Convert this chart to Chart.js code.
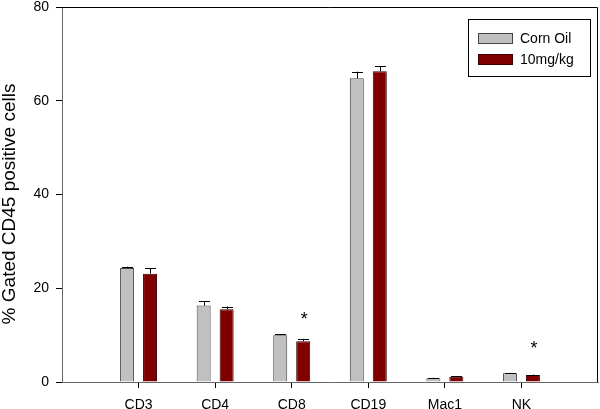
<!DOCTYPE html>
<html>
<head>
<meta charset="utf-8">
<script src="https://cdn.jsdelivr.net/npm/chart.js@4"></script>
<style>
  html, body { margin: 0; padding: 0; background: #fff; }
  #wrap { width: 600px; height: 409px; }
</style>
</head>
<body>
<div id="wrap"><canvas id="chart"></canvas></div>
<script>
// categories (blank slots at both ends keep the axis running 0..7)
const categories = ['', 'CD3', 'CD4', 'CD8', 'CD19', 'Mac1', 'NK', ''];
const cornOil = [null, 24.3, 16.3, 10.0, 64.8, 0.8, 1.85, null];
const cornOilErr = [null, 0.3, 1.0, 0.2, 1.4, 0.1, 0.1, null];
const dose = [null, 23.1, 15.5, 8.7, 66.3, 1.1, 1.5, null];
const doseErr = [null, 1.2, 0.6, 0.5, 1.1, 0.1, 0.1, null];
// asterisk positions (value units) above the 10mg/kg bars
const starAt = [null, null, null, 14, null, null, 7.9, null];
const yTicks = [0, 20, 40, 60, 80];
const yTitle = '% Gated CD45 positive cells';

const errors = [cornOilErr, doseErr];
const FONT = '"Liberation Sans", Arial, sans-serif';

// error bars, asterisks, frame, y title and legend
const extras = {
  id: 'extras',
  afterDatasetsDraw(chart) {
    const ctx = chart.ctx;
    const y = chart.scales.y;
    const area = chart.chartArea;
    ctx.save();
    ctx.strokeStyle = '#000';
    ctx.lineWidth = 1;
    chart.data.datasets.forEach((ds, di) => {
      const meta = chart.getDatasetMeta(di);
      meta.data.forEach((bar, i) => {
        const v = ds.data[i];
        const e = errors[di][i];
        if (v == null || !e) return;
        const top = y.getPixelForValue(v + e);
        const x = Math.round(bar.x) + 0.5;
        ctx.beginPath();
        ctx.moveTo(x, bar.y);
        ctx.lineTo(x, top);
        ctx.moveTo(x - 5.5, Math.round(top) + 0.5);
        ctx.lineTo(x + 5.5, Math.round(top) + 0.5);
        ctx.stroke();
      });
    });

    // asterisks
    const redMeta = chart.getDatasetMeta(1);
    ctx.fillStyle = '#000';
    ctx.font = '18px ' + FONT;
    ctx.textAlign = 'center';
    ctx.textBaseline = 'middle';
    starAt.forEach((s, i) => {
      if (s == null) return;
      ctx.fillText('*', redMeta.data[i].x + 1, y.getPixelForValue(s) + 4);
    });

    // top and right frame
    ctx.strokeStyle = '#000';
    ctx.beginPath();
    ctx.moveTo(area.left, area.top + 0.5);
    ctx.lineTo(area.right - 0.5, area.top + 0.5);
    ctx.lineTo(area.right - 0.5, area.bottom);
    ctx.stroke();

    // y axis title
    ctx.save();
    ctx.translate(10, 204);
    ctx.rotate(-Math.PI / 2);
    ctx.font = '19px ' + FONT;
    ctx.fillStyle = '#000';
    ctx.textAlign = 'center';
    ctx.textBaseline = 'middle';
    ctx.fillText(yTitle, 0, 0);
    ctx.restore();

    // legend box
    const lx = 468, ly = 19, lw = 122, lh = 57;
    ctx.fillStyle = '#fff';
    ctx.fillRect(lx, ly, lw, lh);
    ctx.strokeRect(lx + 0.5, ly + 0.5, lw, lh);
    ctx.font = '14px ' + FONT;
    ctx.textAlign = 'left';
    chart.data.datasets.forEach((ds, di) => {
      const ry = ly + 14 + di * 21;
      ctx.fillStyle = ds.backgroundColor;
      ctx.fillRect(478, ry, 35, 11);
      ctx.strokeStyle = ds.borderColor;
      ctx.strokeRect(478.5, ry + 0.5, 34, 10);
      ctx.fillStyle = '#000';
      ctx.fillText(ds.label, 520, ry + 6);
    });
    ctx.restore();
  }
};

new Chart(document.getElementById('chart'), {
  type: 'bar',
  data: {
    labels: categories,
    datasets: [
      {
        label: 'Corn Oil',
        data: cornOil,
        backgroundColor: '#c0c0c0',
        borderColor: '#444',
        borderWidth: 1,
        barPercentage: 0.61,
        categoryPercentage: 0.6
      },
      {
        label: '10mg/kg',
        data: dose,
        backgroundColor: '#800000',
        borderColor: '#3a0000',
        borderWidth: 1,
        barPercentage: 0.61,
        categoryPercentage: 0.6
      }
    ]
  },
  options: {
    responsive: true,
    maintainAspectRatio: false,
    animation: false,
    layout: { padding: { top: 7, right: 2, left: 0, bottom: 0 } },
    plugins: {
      legend: { display: false },
      tooltip: { enabled: false }
    },
    scales: {
      x: {
        offset: false,
        afterFit: s => {
          s.height = 27;
          s.paddingLeft = 0;
          s.paddingRight = 0;
        },
        border: { color: '#666', width: 1 },
        grid: {
          offset: false,
          drawOnChartArea: false,
          tickLength: 6,
          color: c => (c.index === 0 || c.index === 7) ? 'rgba(0,0,0,0)' : '#000'
        },
        ticks: {
          color: '#000',
          padding: 9,
          maxRotation: 0,
          autoSkip: false,
          font: { family: FONT, size: 14 }
        }
      },
      y: {
        min: 0,
        max: 80,
        afterFit: s => {
          s.width = 62;
          s.paddingTop = 0;
          s.paddingBottom = 0;
        },
        afterBuildTicks: s => { s.ticks = yTicks.map(v => ({ value: v })); },
        border: { color: '#666', width: 1 },
        grid: { drawOnChartArea: false, tickLength: 6, color: '#000' },
        ticks: {
          color: '#000',
          padding: 7,
          font: { family: FONT, size: 14 }
        }
      }
    }
  },
  plugins: [extras]
});
</script>
</body>
</html>
